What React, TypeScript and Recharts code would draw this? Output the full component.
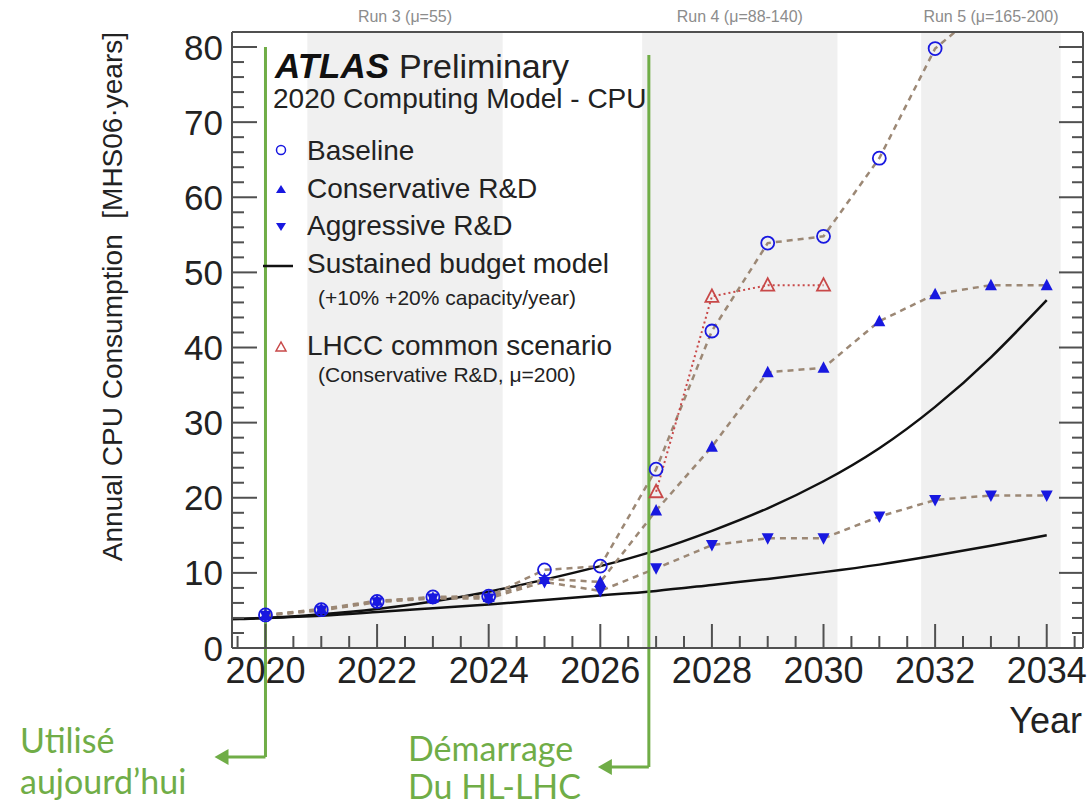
import React from "react";
import { ComposedChart, Line, XAxis, YAxis, ReferenceArea, ReferenceLine } from "recharts";

// Projections (MHS06·years)
const years = [2020, 2021, 2022, 2023, 2024, 2025, 2026, 2027, 2028, 2029, 2030, 2031, 2032, 2033, 2034];
const baseline = [4.4, 5.1, 6.2, 6.8, 6.9, 10.4, 10.9, 23.8, 42.2, 53.9, 54.8, 65.2, 79.8, 86];
const conservative = [4.4, 5.2, 6.3, 6.7, 6.8, 9.2, 8.8, 18.3, 26.8, 36.7, 37.3, 43.5, 47.1, 48.3, 48.3];
const aggressive = [4.3, 5.0, 6.1, 6.6, 6.6, 8.8, 7.6, 10.6, 13.7, 14.6, 14.6, 17.5, 19.7, 20.3, 20.3];
const lhccYears = [2027, 2028, 2029, 2030];
const lhcc = [20.8, 46.8, 48.3, 48.3];

// Sustained budget model curves
const curveYears = [2019.4, 2020, 2021, 2022, 2023, 2024, 2025, 2026, 2027, 2028, 2029, 2030, 2031, 2032, 2033, 2034];
const budget20 = [3.85, 4.0, 4.5, 5.2, 6.2, 7.5, 9.1, 10.9, 13.0, 15.6, 18.6, 22.2, 26.6, 32.1, 38.7, 46.3];
const budget10 = [3.85, 4.0, 4.3, 4.8, 5.3, 5.8, 6.4, 7.0, 7.6, 8.4, 9.2, 10.1, 11.1, 12.3, 13.6, 15.0];

const runBands = [
  { from: 2020.75, to: 2024.25, label: "Run 3 (\u03bc=55)" },
  { from: 2026.75, to: 2030.25, label: "Run 4 (\u03bc=88-140)" },
  { from: 2031.75, to: 2034.25, label: "Run 5 (\u03bc=165-200)" },
];

const xTicks = [2019.5, 2020, 2020.5, 2021, 2021.5, 2022, 2022.5, 2023, 2023.5, 2024, 2024.5, 2025, 2025.5, 2026, 2026.5,
  2027, 2027.5, 2028, 2028.5, 2029, 2029.5, 2030, 2030.5, 2031, 2031.5, 2032, 2032.5, 2033, 2033.5, 2034, 2034.5];
const xLabels = [2020, 2022, 2024, 2026, 2028, 2030, 2032, 2034];
const yTicks = [0, 2, 4, 6, 8, 10, 12, 14, 16, 18, 20, 22, 24, 26, 28, 30, 32, 34, 36, 38, 40,
  42, 44, 46, 48, 50, 52, 54, 56, 58, 60, 62, 64, 66, 68, 70, 72, 74, 76, 78, 80];
const yLabels = [0, 10, 20, 30, 40, 50, 60, 70, 80];

const todayYear = 2020;
const hlLhcStart = 2026.87;

const X_DOMAIN = [2019.4, 2034.65];
const Y_DOMAIN = [0, 82];

const BLUE = "#1818e0";
const RED = "#c84848";
const DASH = "#9c8875";
const GREEN = "#70ad47";
const FRAME = "#505050";
const FONT = "'Liberation Sans', Arial, Helvetica, sans-serif";

const rows = (xs: number[], vs: number[]) => vs.map((v, i) => ({ year: xs[i], v }));

const openCircle = (p: any) => (
  <circle key={`c${p.index}`} cx={p.cx} cy={p.cy} r={6.5} fill="none" stroke={BLUE} strokeWidth={1.8} />
);
const upTri = (p: any) => (
  <polygon key={`u${p.index}`} points={`${p.cx},${p.cy - 6.5} ${p.cx - 6},${p.cy + 5} ${p.cx + 6},${p.cy + 5}`} fill={BLUE} />
);
const downTri = (p: any) => (
  <polygon key={`d${p.index}`} points={`${p.cx},${p.cy + 6.5} ${p.cx - 6},${p.cy - 5} ${p.cx + 6},${p.cy - 5}`} fill={BLUE} />
);
const openRedTri = (p: any) => (
  <polygon key={`r${p.index}`} points={`${p.cx},${p.cy - 7} ${p.cx - 6.5},${p.cy + 5.5} ${p.cx + 6.5},${p.cy + 5.5}`} fill="none" stroke={RED} strokeWidth={1.8} />
);

function BottomTick({ x, y, payload }: any) {
  const v = payload.value;
  const major = xLabels.includes(v);
  return (
    <g>
      <line x1={x} y1={y} x2={x} y2={y - (major ? 24 : 12)} stroke={FRAME} strokeWidth={2} />
      {major && (
        <text x={x} y={y + 35} textAnchor="middle" fontSize={36} fill="#222" fontFamily={FONT}>{v}</text>
      )}
    </g>
  );
}

function TopTick({ x, y, payload }: any) {
  const major = xLabels.includes(payload.value);
  return <line x1={x} y1={y} x2={x} y2={y + (major ? 24 : 12)} stroke={FRAME} strokeWidth={2} />;
}

function LeftTick({ x, y, payload }: any) {
  const v = payload.value;
  const major = yLabels.includes(v);
  return (
    <g>
      <line x1={x} y1={y} x2={x + (major ? 25 : 12)} y2={y} stroke={FRAME} strokeWidth={2} />
      {major && (
        <text x={x - 9} y={y} dy="0.36em" textAnchor="end" fontSize={35} fill="#222" fontFamily={FONT}>{v}</text>
      )}
    </g>
  );
}

function RightTick({ x, y, payload }: any) {
  const major = yLabels.includes(payload.value);
  return <line x1={x} y1={y} x2={x - (major ? 24 : 11)} y2={y} stroke={FRAME} strokeWidth={2} />;
}

const yTitle = (props: any) => {
  const vb = props.viewBox;
  return (
    <text transform={`translate(${vb.x - 109}, ${vb.y}) rotate(-90)`} textAnchor="end" fontSize={28} fill="#222" fontFamily={FONT}>
      {"Annual CPU Consumption\u00a0\u00a0[MHS06\u00b7years]"}
    </text>
  );
};

const xTitle = (props: any) => {
  const vb = props.viewBox;
  return (
    <text x={vb.x + vb.width - 1} y={vb.y + 85} textAnchor="end" fontSize={36} fill="#222" fontFamily={FONT}>Year</text>
  );
};

// green annotation: vertical marker dropped below the frame with an arrow pointing left
const greenArrow = (topGap: number, dropBelow: number) => (p: any) => {
  const top = Math.min(p.y1, p.y2) + topGap;
  const bottom = Math.max(p.y1, p.y2) + dropBelow;
  const tip = p.x1 - 51;
  return (
    <g>
      <line x1={p.x1} y1={top} x2={p.x1} y2={bottom} stroke={GREEN} strokeWidth={3} />
      <line x1={p.x1} y1={bottom} x2={tip + 12} y2={bottom} stroke={GREEN} strokeWidth={3} />
      <polygon points={`${tip},${bottom} ${tip + 14},${bottom - 8} ${tip + 14},${bottom + 8}`} fill={GREEN} />
    </g>
  );
};

function LegendOverlay() {
  const tx = 307;
  return (
    <svg width={1091} height={807} style={{ position: "absolute", left: 0, top: 0, pointerEvents: "none" }} fontFamily={FONT}>
      <text x={275} y={78} fontSize={35} fontWeight="bold" fontStyle="italic" fill="#111">ATLAS</text>
      <text x={399} y={78} fontSize={34} fill="#222">Preliminary</text>
      <text x={273} y={108} fontSize={28} fill="#222">2020 Computing Model - CPU</text>

      <circle cx={281} cy={150} r={4.5} fill="none" stroke={BLUE} strokeWidth={1.5} />
      <text x={tx} y={160} fontSize={28} fill="#222">Baseline</text>

      <polygon points="281,185 276,193 286,193" fill={BLUE} />
      <text x={tx} y={198} fontSize={28} fill="#222">Conservative R&amp;D</text>

      <polygon points="281,231 276,223 286,223" fill={BLUE} />
      <text x={tx} y={235} fontSize={28} fill="#222">Aggressive R&amp;D</text>

      <line x1={263} y1={266} x2={293} y2={266} stroke="#111" strokeWidth={2.5} />
      <text x={tx} y={273} fontSize={28} fill="#222">Sustained budget model</text>
      <text x={318} y={305} fontSize={21} fill="#222">(+10% +20% capacity/year)</text>

      <polygon points="281,342 276,351 286,351" fill="none" stroke={RED} strokeWidth={1.5} />
      <text x={tx} y={355} fontSize={28} fill="#222">LHCC common scenario</text>
      <text x={318} y={382} fontSize={21} fill="#222">(Conservative R&amp;D, μ=200)</text>

      <g fontFamily="Lato, 'Open Sans', sans-serif" fontSize={34} fill={GREEN}>
        <text x={20} y={753}>Utilisé</text>
        <text x={20} y={794}>aujourd’hui</text>
        <text x={408} y={761}>Démarrage</text>
        <text x={408} y={799}>Du HL-LHC</text>
      </g>
    </svg>
  );
}

export default function App() {
  return (
    <div style={{ position: "absolute", left: 0, top: 0, width: 1091, height: 807, background: "#fff", overflow: "hidden" }}>
      <ComposedChart width={1091} height={807} margin={{ top: 31, right: 7, bottom: 158, left: 231 }}>
        {runBands.map((b) => (
          <ReferenceArea
            key={b.label}
            x1={b.from}
            x2={b.to}
            fill="#f0f0f0"
            fillOpacity={1}
            stroke="none"
            label={{ value: b.label, position: "top", offset: 10, fill: "#8c8c8c", fontSize: 16, fontFamily: FONT }}
          />
        ))}

        <XAxis
          dataKey="year"
          type="number"
          domain={X_DOMAIN}
          allowDataOverflow
          ticks={xTicks}
          interval={0}
          height={1}
          tickSize={0}
          tickMargin={0}
          tick={<BottomTick />}
          axisLine={{ stroke: FRAME, strokeWidth: 2 }}
          label={xTitle}
        />
        <XAxis
          xAxisId="top"
          orientation="top"
          type="number"
          domain={X_DOMAIN}
          allowDataOverflow
          ticks={xTicks}
          interval={0}
          height={1}
          tickSize={0}
          tickMargin={0}
          tick={<TopTick />}
          axisLine={{ stroke: FRAME, strokeWidth: 2 }}
        />
        <YAxis
          type="number"
          domain={Y_DOMAIN}
          allowDataOverflow
          ticks={yTicks}
          interval={0}
          width={1}
          tickSize={0}
          tickMargin={0}
          tick={<LeftTick />}
          axisLine={{ stroke: FRAME, strokeWidth: 2 }}
          label={yTitle}
        />
        <YAxis
          yAxisId="right"
          orientation="right"
          type="number"
          domain={Y_DOMAIN}
          allowDataOverflow
          ticks={yTicks}
          interval={0}
          width={1}
          tickSize={0}
          tickMargin={0}
          tick={<RightTick />}
          axisLine={{ stroke: FRAME, strokeWidth: 2 }}
        />

        <Line data={rows(curveYears, budget20)} dataKey="v" type="natural" stroke="#111" strokeWidth={2.5} dot={false} isAnimationActive={false} />
        <Line data={rows(curveYears, budget10)} dataKey="v" type="natural" stroke="#111" strokeWidth={2.5} dot={false} isAnimationActive={false} />

        <Line data={rows(years, aggressive)} dataKey="v" type="linear" stroke={DASH} strokeWidth={2.5} strokeDasharray="6 5" dot={downTri} isAnimationActive={false} />
        <Line data={rows(years, conservative)} dataKey="v" type="linear" stroke={DASH} strokeWidth={2.5} strokeDasharray="6 5" dot={upTri} isAnimationActive={false} />
        <Line data={rows(years, baseline)} dataKey="v" type="linear" stroke={DASH} strokeWidth={2.5} strokeDasharray="6 5" dot={openCircle} isAnimationActive={false} />
        <Line data={rows(lhccYears, lhcc)} dataKey="v" type="linear" stroke={RED} strokeWidth={2} strokeDasharray="2 3" dot={openRedTri} isAnimationActive={false} />

        <ReferenceLine x={todayYear} stroke={GREEN} shape={greenArrow(15, 109)} />
        <ReferenceLine x={hlLhcStart} stroke={GREEN} shape={greenArrow(23, 119)} />
      </ComposedChart>
      <LegendOverlay />
    </div>
  );
}
